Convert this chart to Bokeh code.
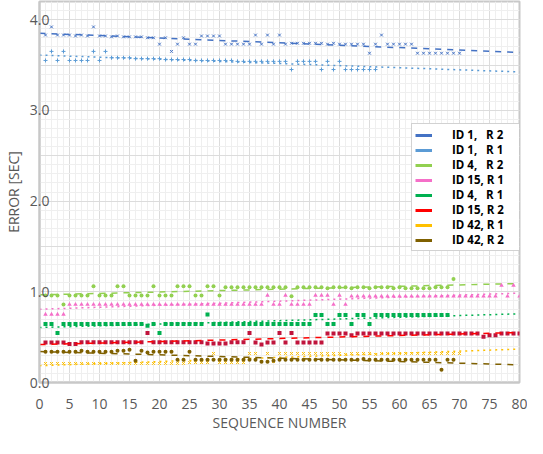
import numpy as np
from bokeh.plotting import figure
from bokeh.models import (ColumnDataSource, Range1d, SingleIntervalTicker, FixedTicker,
                          NumeralTickFormatter, Legend, LegendItem)
from bokeh.embed import file_html
from bokeh.resources import INLINE

# ---------------- data ----------------
id1_r2 = [3.83, 3.92, 3.83, 3.83, 3.83, 3.82, 3.83, 3.82, 3.92, 3.82,
          3.82, 3.81, 3.82, 3.81, 3.81, 3.81, 3.81, 3.80, 3.80, 3.73,
          3.80, 3.65, 3.73, 3.80, 3.73, 3.73, 3.82, 3.82, 3.82, 3.82,
          3.73, 3.73, 3.73, 3.73, 3.73, 3.83, 3.73, 3.83, 3.73, 3.83,
          3.73, 3.74, 3.74, 3.74, 3.74, 3.74, 3.74, 3.73, 3.74, 3.73,
          3.73, 3.73, 3.73, 3.73, 3.63, 3.73, 3.83, 3.73, 3.73, 3.73,
          3.73, 3.73, 3.63, 3.63, 3.63, 3.63, 3.63, 3.63, 3.63, 3.63]
id1_r1 = [3.55, 3.65, 3.55, 3.65, 3.55, 3.55, 3.55, 3.55, 3.65, 3.55,
          3.65, 3.58, 3.58, 3.58, 3.58, 3.57, 3.57, 3.57, 3.57, 3.57,
          3.56, 3.56, 3.56, 3.56, 3.56, 3.55, 3.55, 3.55, 3.55, 3.55,
          3.55, 3.55, 3.54, 3.54, 3.54, 3.54, 3.54, 3.54, 3.54, 3.54,
          3.54, 3.45, 3.54, 3.54, 3.54, 3.54, 3.45, 3.54, 3.45, 3.54,
          3.45, 3.45, 3.45, 3.45, 3.45, 3.45]
id4_r2 = [0.96, 0.96, 0.96, 0.86, 0.96, 0.96, 0.96, 0.96, 1.06, 0.96,
          0.96, 0.96, 1.06, 1.06, 0.96, 0.96, 0.96, 0.96, 1.06, 0.96,
          0.96, 0.96, 1.06, 1.06, 1.06, 0.96, 0.96, 1.06, 1.06, 0.96,
          1.05, 1.05, 1.05, 1.05, 1.05, 1.05, 1.05, 1.05, 1.05, 1.05,
          1.05, 0.95, 1.05, 1.05, 1.05, 1.05, 1.05, 1.04, 1.05, 1.05,
          1.05, 1.04, 1.05, 1.05, 1.04, 1.05, 1.05, 1.05, 1.04, 1.05,
          1.04, 1.04, 1.04, 1.04, 1.04, 1.05, 1.05, 1.05, 1.14]
id15_r1 = [0.75, 0.75, 0.75, 0.75, 0.86, 0.86, 0.86, 0.86, 0.86, 0.86,
           0.86, 0.86, 0.86, 0.86, 0.86, 0.86, 0.86, 0.86, 0.86, 0.86,
           0.86, 0.86, 0.86, 0.86, 0.86, 0.86, 0.86, 0.86, 0.86, 0.86,
           0.86, 0.86, 0.86, 0.86, 0.86, 0.86, 0.86, 0.96, 0.86, 0.86,
           0.96, 0.86, 0.86, 0.86, 0.86, 0.96, 0.96, 0.96, 0.86, 0.96,
           0.86, 0.95, 0.95, 0.95, 0.95, 0.95, 0.95, 0.95, 0.95, 0.95,
           0.95, 0.95, 0.95, 0.95, 0.95, 0.95, 0.95, 0.95, 0.95, 0.95,
           0.95, 0.95, 0.95, 0.95, 0.95, 0.95, 1.07, 0.95, 1.07, 0.95]
id4_r1 = [0.645, 0.645, 0.545, 0.645, 0.645, 0.645, 0.645, 0.645, 0.645, 0.645,
          0.645, 0.645, 0.645, 0.645, 0.645, 0.645, 0.645, 0.625, 0.645, 0.545,
          0.645, 0.645, 0.645, 0.645, 0.645, 0.645, 0.645, 0.75, 0.645, 0.645,
          0.645, 0.645, 0.645, 0.645, 0.645, 0.645, 0.645, 0.645, 0.645, 0.645,
          0.645, 0.645, 0.645, 0.645, 0.645, 0.745, 0.745, 0.645, 0.645, 0.745,
          0.745, 0.645, 0.745, 0.745, 0.645, 0.745, 0.745, 0.745, 0.745, 0.745,
          0.745, 0.745, 0.745, 0.745, 0.745, 0.745, 0.745, 0.745]
id15_r2 = [0.44, 0.44, 0.44, 0.44, 0.425, 0.425, 0.445, 0.445, 0.445, 0.445,
           0.445, 0.445, 0.445, 0.445, 0.445, 0.445, 0.445, 0.545, 0.445, 0.445,
           0.445, 0.445, 0.445, 0.445, 0.445, 0.445, 0.445, 0.43, 0.43, 0.43,
           0.43, 0.445, 0.445, 0.445, 0.545, 0.44, 0.42, 0.44, 0.44, 0.545,
           0.44, 0.545, 0.44, 0.44, 0.44, 0.44, 0.44, 0.54, 0.54, 0.54,
           0.54, 0.52, 0.54, 0.54, 0.54, 0.54, 0.54, 0.54, 0.54, 0.54,
           0.54, 0.54, 0.54, 0.54, 0.54, 0.54, 0.54, 0.54, 0.54, 0.54,
           0.54, 0.54, 0.54, 0.505, 0.52, 0.52, 0.54, 0.54, 0.54, 0.54]
id42_r1 = [0.21, 0.21, 0.21, 0.21, 0.21, 0.21, 0.21, 0.21, 0.21, 0.21,
           0.21, 0.21, 0.21, 0.21, 0.21, 0.21, 0.21, 0.21, 0.21, 0.21,
           0.21, 0.21, 0.21, 0.21, 0.22, 0.22, 0.22, 0.22, 0.32, 0.22,
           0.22, 0.22, 0.22, 0.22, 0.32, 0.32, 0.23, 0.32, 0.23, 0.32,
           0.32, 0.32, 0.32, 0.32, 0.32, 0.32, 0.32, 0.32, 0.32, 0.32,
           0.31, 0.32, 0.32, 0.32, 0.32, 0.31, 0.32, 0.32, 0.32, 0.32,
           0.32, 0.32, 0.32, 0.32, 0.32, 0.32, 0.32, 0.32, 0.32, 0.32]
id42_r2 = [0.34, 0.34, 0.34, 0.34, 0.34, 0.34, 0.35, 0.34, 0.34, 0.34,
           0.34, 0.34, 0.35, 0.35, 0.36, 0.24, 0.35, 0.33, 0.34, 0.34,
           0.34, 0.34, 0.25, 0.25, 0.34, 0.25, 0.25, 0.25, 0.25, 0.25,
           0.25, 0.25, 0.25, 0.25, 0.25, 0.25, 0.23, 0.23, 0.24, 0.25,
           0.25, 0.25, 0.25, 0.25, 0.25, 0.25, 0.25, 0.25, 0.25, 0.25,
           0.25, 0.25, 0.25, 0.26, 0.25, 0.25, 0.25, 0.25, 0.25, 0.25,
           0.25, 0.25, 0.25, 0.25, 0.25, 0.25, 0.14, 0.25, 0.25]

labels = ["ID 1,   R 2", "ID 1,   R 1", "ID 4,   R 2", "ID 15, R 1",
          "ID 4,   R 1", "ID 15, R 2", "ID 42, R 1", "ID 42, R 2"]
series = [id1_r2, id1_r1, id4_r2, id15_r1, id4_r1, id15_r2, id42_r1, id42_r2]
x_ticks = list(range(0, 81, 5))
y_ticks = [0, 1, 2, 3, 4]
x_title = "SEQUENCE NUMBER"
y_title = "ERROR [SEC]"

# ---------------- styles ----------------
line_colors = ["#4472C4", "#5B9BD5", "#92D050", "#F56FC8",
               "#00B050", "#FF0000", "#FFC000", "#7F6000"]
marker_colors = ["#4472C4", "#5B9BD5", "#92D050", "#F56FC8",
                 "#00B050", "#C0143C", "#FFC000", "#7F6000"]
markers = ["x", "cross", "circle", "triangle", "square", "square", "x", "circle"]
msizes = [4, 4, 4, 4.5, 4, 4, 4, 4]
mlw = [1, 1, 0, 0, 0, 0, 1, 0]
dashes = ["dashed", "dotted", "dashed", "dotted", "dotted", "dashed", "dotted", "dashed"]

FONT = "Open Sans"
GRAY = "#595959"

p = figure(width=527, height=438, output_backend="svg", toolbar_location=None,
           x_range=Range1d(0, 80), y_range=Range1d(0, 4.2),
           min_border_left=33, min_border_right=8, min_border_top=1, min_border_bottom=56)
p.background_fill_color = "white"
p.outline_line_color = "#C8C8C8"
p.outline_line_width = 2

# grids
p.xgrid.ticker = SingleIntervalTicker(interval=5, num_minor_ticks=5)
p.ygrid.ticker = SingleIntervalTicker(interval=0.5, num_minor_ticks=5)
for g in (p.xgrid, p.ygrid):
    g.grid_line_color = "#DCDCDC"
    g.grid_line_width = 1
    g.minor_grid_line_color = "#EFEFEF"
    g.minor_grid_line_width = 1

# axes
p.xaxis.ticker = FixedTicker(ticks=x_ticks)
p.yaxis.ticker = FixedTicker(ticks=y_ticks)
p.yaxis.formatter = NumeralTickFormatter(format="0.0")
for ax in (p.xaxis, p.yaxis):
    ax.axis_line_color = "#C8C8C8"
    ax.axis_line_width = 2
    ax.major_tick_line_color = None
    ax.minor_tick_line_color = None
    ax.major_tick_out = 0
    ax.major_tick_in = 0
    ax.minor_tick_out = 0
    ax.minor_tick_in = 0
    ax.major_label_text_font = FONT
    ax.major_label_text_font_size = "14px"
    ax.major_label_text_color = GRAY
    ax.axis_label_text_font = FONT
    ax.axis_label_text_font_size = "14px"
    ax.axis_label_text_color = GRAY
    ax.axis_label_text_font_style = "normal"
p.xaxis.axis_label = x_title
p.yaxis.axis_label = y_title
p.xaxis.major_label_standoff = 16
p.xaxis.axis_label_standoff = 1
p.yaxis.major_label_standoff = -10
p.yaxis.axis_label_standoff = 4

items = []
for vals, lab, lc, mc, mk, ms, lw, dash in zip(series, labels, line_colors, marker_colors,
                                               markers, msizes, mlw, dashes):
    xs = np.arange(1, len(vals) + 1)
    src = ColumnDataSource(dict(x=xs, y=vals))
    if lw:
        p.scatter("x", "y", source=src, marker=mk, size=ms, line_color=mc, line_width=lw)
    else:
        p.scatter("x", "y", source=src, marker=mk, size=ms, fill_color=mc, line_color=None)
    k, b = np.polyfit(xs, vals, 1)
    tx = np.array([0, 80])
    p.line(tx, k * tx + b, line_color=lc, line_dash=dash, line_width=1.5)
    dummy = p.line(x=[np.nan], y=[np.nan], line_color=lc, line_width=3)
    items.append(LegendItem(label=lab, renderers=[dummy]))

legend = Legend(items=items, location=(372, 131))
legend.label_text_font = FONT
legend.label_text_font_size = "11.5px"
legend.label_text_font_style = "bold"
legend.label_text_color = "#000000"
legend.border_line_color = "#A6A6A6"
legend.border_line_width = 1
legend.background_fill_color = "white"
legend.background_fill_alpha = 1
legend.glyph_width = 17
legend.glyph_height = 14
legend.label_height = 14
legend.label_width = 68
legend.spacing = 0
legend.padding = 3
legend.label_standoff = 20
legend.margin = 0
p.add_layout(legend, "center")

open("out.html", "w").write(file_html(p, INLINE))
